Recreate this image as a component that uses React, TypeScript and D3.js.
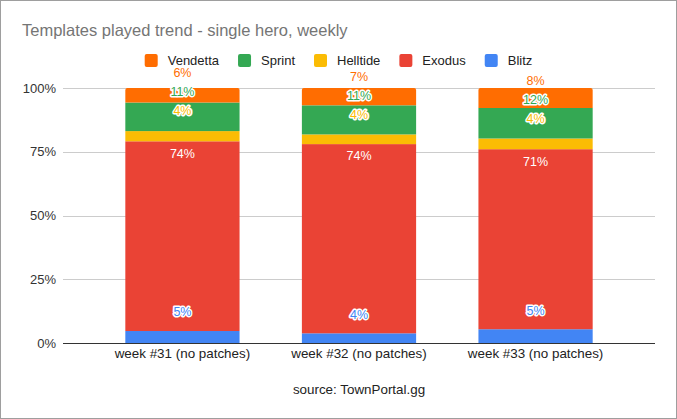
import { useEffect, useRef } from "react";
import * as d3 from "d3";

// Valores (percentual por semana)
const SEMANAS = ["week #31 (no patches)", "week #32 (no patches)", "week #33 (no patches)"];
const BLITZ = [4.7, 3.8, 5.4];
const EXODUS = [74.4, 74.2, 70.6];
const HELLTIDE = [4.0, 3.8, 4.2];
const SPRINT = [11.2, 11.4, 12.0];
const VENDETTA = [5.7, 6.8, 7.8];
const Y_TICKS = [0, 0.25, 0.5, 0.75, 1];

const SERIES = ["Blitz", "Exodus", "Helltide", "Sprint", "Vendetta"];
const VALORES: Record<string, number[]> = {
  Blitz: BLITZ,
  Exodus: EXODUS,
  Helltide: HELLTIDE,
  Sprint: SPRINT,
  Vendetta: VENDETTA,
};

const CORES: Record<string, string> = {
  Blitz: "#4285f4",
  Exodus: "#ea4335",
  Helltide: "#fbbc04",
  Sprint: "#34a853",
  Vendetta: "#ff6d01",
};

// deslocamento do rótulo em relação ao topo do segmento
const DESLOC_ROTULO: Record<string, number> = {
  Blitz: -19,
  Exodus: 12,
  Helltide: -20,
  Sprint: -8,
  Vendetta: -7,
};

const FONTE = "'Liberation Sans', Arial, sans-serif";
const W = 677;
const H = 419;

const App = () => {
  const svgRef = useRef<SVGSVGElement>(null);

  useEffect(() => {
    if (!svgRef.current) return;
    const svg = d3.select(svgRef.current);
    svg.selectAll("*").remove();

    const plot = { left: 63, right: 655, top: 88, bottom: 343 };

    const linhas = SEMANAS.map((s, i) => {
      const row: Record<string, number | string> = { semana: s };
      SERIES.forEach((k) => (row[k] = VALORES[k][i] / 100));
      return row;
    });

    const stack = d3.stack<Record<string, number | string>>().keys(SERIES)(linhas as any);

    const x = d3.scaleBand().domain(SEMANAS).range([plot.left, plot.right]).padding(0.353);
    const y = d3.scaleLinear().domain([0, 1]).range([plot.bottom, plot.top]);

    // borda
    svg.append("rect")
      .attr("x", 0.5).attr("y", 0.5)
      .attr("width", W - 1).attr("height", H - 1)
      .attr("fill", "#fff").attr("stroke", "#9e9e9e");

    // título
    svg.append("text")
      .attr("x", 22).attr("y", 36)
      .style("font-family", FONTE).style("font-size", "16.5px")
      .attr("fill", "#757575")
      .text("Templates played trend - single hero, weekly");

    // grade
    svg.append("g").selectAll("line")
      .data(Y_TICKS.filter((t) => t > 0))
      .enter().append("line")
      .attr("x1", plot.left).attr("x2", plot.right)
      .attr("y1", (d) => Math.round(y(d)) + 0.5).attr("y2", (d) => Math.round(y(d)) + 0.5)
      .attr("stroke", "#cccccc");

    svg.append("g").selectAll("text")
      .data(Y_TICKS)
      .enter().append("text")
      .attr("x", 56).attr("y", (d) => y(d))
      .attr("dy", "0.35em")
      .attr("text-anchor", "end")
      .style("font-family", FONTE).style("font-size", "13px")
      .attr("fill", "#333")
      .text((d) => `${d * 100}%`);

    // barras
    stack.forEach((camada, si) => {
      const key = camada.key;
      const topo = si === stack.length - 1;
      camada.forEach((seg, i) => {
        const x0 = x(SEMANAS[i]) ?? 0;
        const bw = x.bandwidth();
        const y0 = y(seg[1]);
        const y1 = y(seg[0]);
        if (topo) {
          const r = 2;
          const p = d3.path();
          p.moveTo(x0, y1);
          p.lineTo(x0, y0 + r);
          p.quadraticCurveTo(x0, y0, x0 + r, y0);
          p.lineTo(x0 + bw - r, y0);
          p.quadraticCurveTo(x0 + bw, y0, x0 + bw, y0 + r);
          p.lineTo(x0 + bw, y1);
          p.closePath();
          svg.append("path").attr("d", p.toString()).attr("fill", CORES[key]);
        } else {
          svg.append("rect")
            .attr("x", x0).attr("y", y0)
            .attr("width", bw).attr("height", y1 - y0)
            .attr("fill", CORES[key]);
        }
      });
    });

    // eixo base
    svg.append("line")
      .attr("x1", plot.left).attr("x2", plot.right)
      .attr("y1", plot.bottom + 0.5).attr("y2", plot.bottom + 0.5)
      .attr("stroke", "#333");

    // rótulos de dados, com ajuste simples de colisão
    SEMANAS.forEach((s, i) => {
      const cx = (x(s) ?? 0) + x.bandwidth() / 2;
      let anterior: number | null = null;
      stack.forEach((camada) => {
        const key = camada.key;
        const seg = camada[i];
        let cy = y(seg[1]) + DESLOC_ROTULO[key];
        if (key !== "Exodus") {
          if (anterior !== null && key !== "Helltide") cy = Math.min(cy, anterior - 19);
          anterior = cy;
        }
        const txt = `${Math.round(VALORES[key][i])}%`;
        const interno = key === "Exodus";
        svg.append("text")
          .attr("x", cx).attr("y", cy).attr("dy", "0.35em")
          .attr("text-anchor", "middle")
          .style("font-family", FONTE).style("font-size", "12.5px")
          .attr("fill", interno ? "#fff" : CORES[key])
          .attr("stroke", interno ? "none" : "#fff")
          .attr("stroke-width", 3)
          .attr("stroke-linejoin", "round")
          .attr("paint-order", "stroke")
          .text(txt);
      });
    });

    // rótulos do eixo X
    svg.append("g").selectAll("text")
      .data(SEMANAS)
      .enter().append("text")
      .attr("x", (d) => (x(d) ?? 0) + x.bandwidth() / 2)
      .attr("y", 358)
      .attr("text-anchor", "middle")
      .style("font-family", FONTE).style("font-size", "13.4px")
      .attr("fill", "#222")
      .text((d) => d);

    svg.append("text")
      .attr("x", (plot.left + plot.right) / 2).attr("y", 394)
      .attr("text-anchor", "middle")
      .style("font-family", FONTE).style("font-size", "13.4px")
      .attr("fill", "#222")
      .text("source: TownPortal.gg");

    // legenda (ordem invertida, centralizada)
    const legenda = svg.append("g");
    let cursor = 0;
    [...SERIES].reverse().forEach((key) => {
      const item = legenda.append("g").attr("transform", `translate(${cursor},0)`);
      item.append("rect")
        .attr("x", 0).attr("y", -6.5)
        .attr("width", 13).attr("height", 13)
        .attr("rx", 2)
        .attr("fill", CORES[key]);
      const t = item.append("text")
        .attr("x", 23).attr("y", 0).attr("dy", "0.35em")
        .style("font-family", FONTE).style("font-size", "13px")
        .attr("fill", "#222")
        .text(key);
      const largura = (t.node() as SVGTextElement).getComputedTextLength();
      cursor += 23 + largura + 19;
    });
    const total = cursor - 19;
    legenda.attr("transform", `translate(${(W - total) / 2},60.5)`);
  }, []);

  return (
    <div style={{ position: "absolute", left: 0, top: 0 }}>
      <svg ref={svgRef} width={W} height={H} style={{ display: "block" }} />
    </div>
  );
};

export default App;
